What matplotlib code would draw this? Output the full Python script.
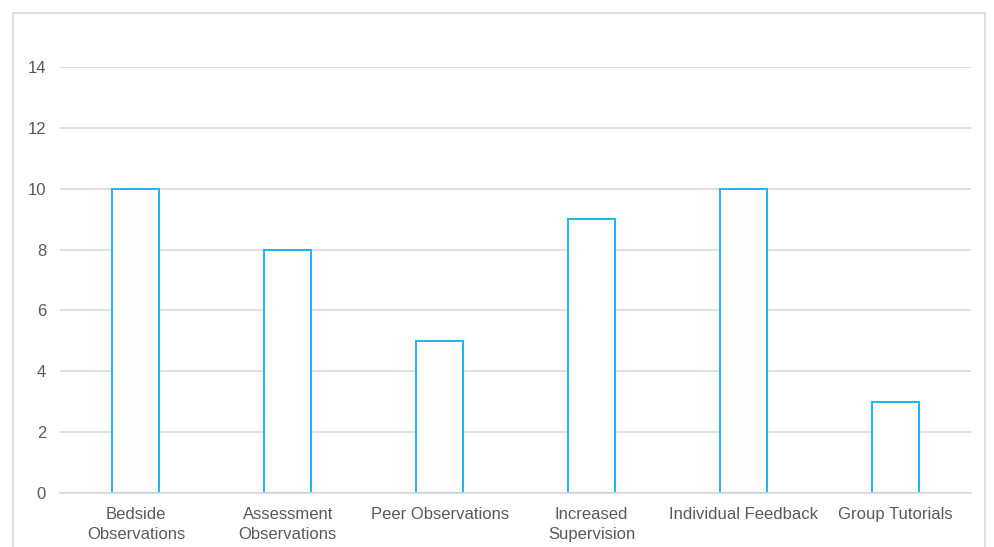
import matplotlib
matplotlib.use("Agg")
import matplotlib.pyplot as plt
from matplotlib.patches import Rectangle

categories = ["Bedside\nObservations", "Assessment\nObservations", "Peer Observations",
              "Increased\nSupervision", "Individual Feedback", "Group Tutorials"]
values = [10, 8, 5, 9, 10, 3]
yticks = [0, 2, 4, 6, 8, 10, 12, 14]

plt.rcParams['font.family'] = ['Liberation Sans', 'DejaVu Sans']

fig = plt.figure(figsize=(9.95, 5.47), dpi=100)
fig.patches.append(Rectangle((13/995, -0.1), (985-13)/995, 0.1 + (547-13)/547,
                             transform=fig.transFigure, fill=False,
                             edgecolor='#d9d9d9', linewidth=1.2))
ax = fig.add_axes([60/995, 54/547, (971-60)/995, (493-67)/547])

x = list(range(len(categories)))
ax.bar(x, values, width=0.31, facecolor='white', edgecolor='#1EB4EE', linewidth=1.4, zorder=3)

ax.set_xlim(-0.5, len(categories) - 0.5)
ax.set_ylim(0, 14)
ax.set_yticks(yticks)
ax.set_xticks(x)
ax.set_xticklabels(categories, linespacing=1.4)
ax.grid(axis='y', color='#d9d9d9', linewidth=1.2, zorder=0)
ax.set_axisbelow(True)
for s in ['top', 'right', 'left']:
    ax.spines[s].set_visible(False)
ax.spines['bottom'].set_color('#d9d9d9')
ax.spines['bottom'].set_linewidth(1.2)
ax.spines['bottom'].set_zorder(4)
ax.tick_params(axis='both', length=0, labelsize=12, labelcolor='#595959')
ax.tick_params(axis='y', pad=10)
ax.tick_params(axis='x', pad=10)

fig.savefig("out.png", dpi=100)
